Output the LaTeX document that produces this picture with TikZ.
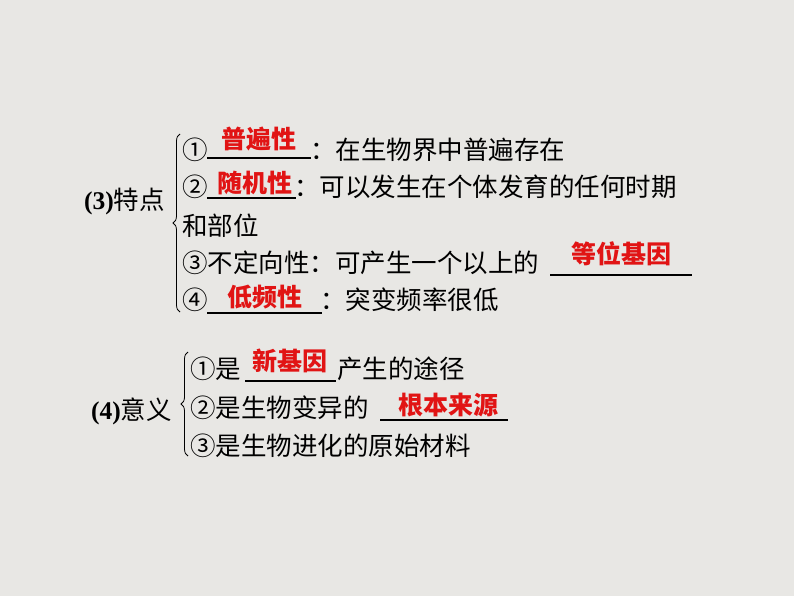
\documentclass[tikz,border=0pt]{standalone}
\usepackage{fontspec}
\setmainfont{Liberation Serif}
\newfontfamily\cjk{Noto Sans CJK SC}
\usetikzlibrary{decorations.pathreplacing}
\definecolor{bg}{RGB}{232,231,228}
\definecolor{ans}{RGB}{225,20,20}
\tikzset{
  txt/.style={anchor=west, inner sep=0pt, font=\fontsize{25.5}{26}\selectfont\cjk},
  answer/.style={inner sep=0pt, text=ans, font=\fontsize{25}{26}\selectfont\cjk\bfseries},
  blank/.style={line width=1.3pt},
  brace/.style={decorate, decoration={brace, amplitude=7pt}, line width=0.8pt}
}
\begin{document}
\begin{tikzpicture}[x=1pt,y=-1pt]
\fill[bg] (0,0) rectangle (794,596);
\useasboundingbox (0,0) rectangle (794,596);

% (3)
\node[txt] (t3) at (84,201) {{\rmfamily\bfseries (3)}特点};
\draw[brace] (180,312) -- (180,134);
\node[txt] (a1) at (182,150) {①};
\coordinate (u1a) at (207,158); \coordinate (u1b) at (311,158);
\draw[blank] (u1a) -- (u1b);
\node[answer] (r1) at (259,139) {普遍性};
\node[txt] (b1) at (310,150) {：在生物界中普遍存在};
\node[txt] (a2) at (182,187) {②};
\coordinate (u2a) at (207,198); \coordinate (u2b) at (296,198);
\draw[blank] (u2a) -- (u2b);
\node[answer] (r2) at (255,183) {随机性};
\node[txt] (b2) at (294,187) {：可以发生在个体发育的任何时期};
\node[txt] (a2b) at (182,226) {和部位};
\node[txt] (a3) at (182,263) {③不定向性：可产生一个以上的};
\coordinate (u3a) at (550,275); \coordinate (u3b) at (692,275);
\draw[blank] (u3a) -- (u3b);
\node[answer] (r3) at (621,254) {等位基因};
\node[txt] (a4) at (182,300) {④};
\coordinate (u4a) at (207,313); \coordinate (u4b) at (322,313);
\draw[blank] (u4a) -- (u4b);
\node[answer] (r4) at (265,297) {低频性};
\node[txt] (b4) at (320,300) {：突变频率很低};

% (4)
\node[txt] (t4) at (91,411) {{\rmfamily\bfseries (4)}意义};
\draw[brace] (188,456) -- (188,352);
\node[txt] (c1) at (190,369) {①是};
\coordinate (v1a) at (245,381); \coordinate (v1b) at (336,381);
\draw[blank] (v1a) -- (v1b);
\node[answer] (s1) at (290,361) {新基因};
\node[txt] (d1) at (337,369) {产生的途径};
\node[txt] (c2) at (190,408) {②是生物变异的};
\coordinate (v2a) at (380,420); \coordinate (v2b) at (508,420);
\draw[blank] (v2a) -- (v2b);
\node[answer] (s2) at (448,405) {根本来源};
\node[txt] (c3) at (190,446) {③是生物进化的原始材料};
\end{tikzpicture}
\end{document}
